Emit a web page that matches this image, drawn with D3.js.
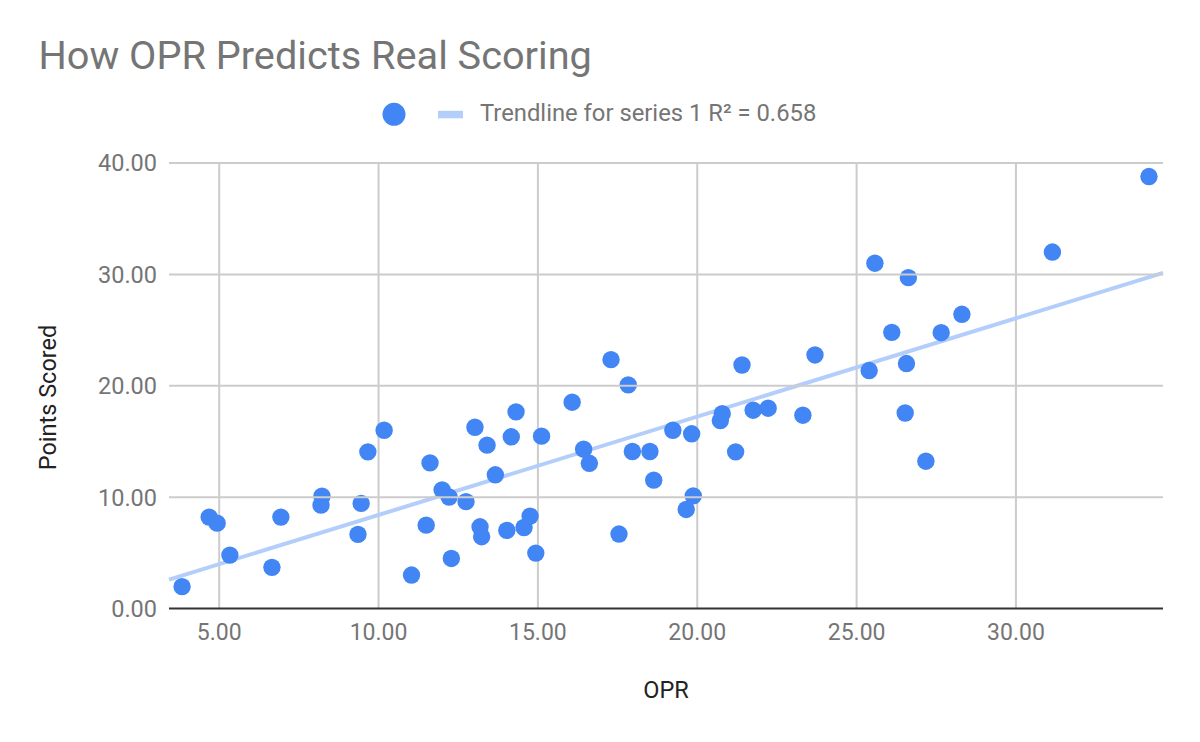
<!DOCTYPE html>
<html>
<head>
<meta charset="utf-8">
<script src="https://cdn.jsdelivr.net/npm/d3@7"></script>
<style>
  html, body { margin: 0; padding: 0; background: #fff; }
  svg { display: block; font-family: Roboto, "Noto Sans", Arial, sans-serif; }
</style>
</head>
<body>
<svg id="chart" width="1200" height="742"></svg>
<script>
// ---- data ----
const oprValues = [
  3.85, 4.70, 4.95, 5.35, 6.67, 6.95, 8.24, 8.21, 9.37, 9.47,
  9.68, 10.19, 11.05, 11.51, 11.63, 12.01, 12.23, 12.30, 12.76, 13.04,
  13.20, 13.25, 13.42, 13.68, 14.04, 14.18, 14.33, 14.58, 14.77, 14.95,
  15.13, 16.09, 16.45, 16.63, 17.31, 17.56, 17.85, 17.98, 18.53, 18.65,
  19.25, 19.67, 19.84, 19.89, 20.74, 20.80, 21.22, 21.42, 21.77, 22.24,
  23.33, 23.71, 25.41, 25.59, 26.12, 26.54, 26.58, 26.64, 27.19, 27.67,
  28.32, 31.16, 34.19
];
const pointsScored = [
  1.92, 8.16, 7.62, 4.75, 3.65, 8.16, 10.04, 9.24, 6.61, 9.39,
  14.02, 15.96, 2.96, 7.44, 13.03, 10.61, 9.96, 4.45, 9.55, 16.23,
  7.29, 6.40, 14.62, 11.96, 6.97, 15.37, 17.61, 7.23, 8.25, 4.93,
  15.43, 18.48, 14.26, 12.99, 22.30, 6.64, 20.03, 14.05, 14.05, 11.48,
  15.96, 8.85, 15.64, 10.07, 16.83, 17.45, 14.02, 21.82, 17.76, 17.94,
  17.31, 22.72, 21.32, 30.96, 24.75, 17.51, 21.95, 29.66, 13.18, 24.72,
  26.37, 31.96, 38.74
];
const xTicks = [5, 10, 15, 20, 25, 30];
const yTicks = [0, 10, 20, 30, 40];
const xDomain = [3.44, 34.63];
const yDomain = [0, 40];
const titleText = "How OPR Predicts Real Scoring";
const legendText = "Trendline for series 1 R\u00B2 = 0.658";
const xTitle = "OPR";
const yTitle = "Points Scored";

// ---- layout ----
const svg = d3.select("#chart");
const plot = { left: 169, right: 1163, top: 162.5, bottom: 608 };
const blue = "#4285F4";
const trendColor = "#b3cefb";

const x = d3.scaleLinear().domain(xDomain).range([plot.left, plot.right]);
const y = d3.scaleLinear().domain(yDomain).range([plot.bottom, plot.top]);
const fmt = d3.format(".2f");

// title
svg.append("text")
  .attr("x", 38.5).attr("y", 69)
  .attr("font-size", 39.7).attr("fill", "#757575")
  .text(titleText);

// legend
svg.append("circle").attr("cx", 394).attr("cy", 114.3).attr("r", 11.5).attr("fill", blue);
svg.append("rect").attr("x", 438).attr("y", 110.8).attr("width", 25).attr("height", 7.5).attr("fill", trendColor);
svg.append("text")
  .attr("x", 480).attr("y", 121)
  .attr("font-size", 23.8).attr("fill", "#757575")
  .text(legendText);

// gridlines (vertical) via axis
const gx = svg.append("g")
  .attr("transform", `translate(0,${plot.bottom})`)
  .call(d3.axisBottom(x).tickValues(xTicks).tickSize(-(plot.bottom - plot.top)).tickFormat(fmt).tickPadding(16));
gx.select(".domain").remove();
gx.selectAll(".tick line").attr("stroke", "#cccccc").attr("stroke-width", 2);
gx.selectAll(".tick text").attr("font-size", 23).attr("fill", "#757575")
  .attr("font-family", "Roboto, sans-serif");

// horizontal gridlines via axis
const gy = svg.append("g")
  .attr("transform", `translate(${plot.left},0)`)
  .call(d3.axisLeft(y).tickValues(yTicks).tickSize(-(plot.right - plot.left)).tickFormat(fmt).tickPadding(12));
gy.select(".domain").remove();
gy.selectAll(".tick line").attr("stroke", d => d === 0 ? "#333333" : "#cccccc").attr("stroke-width", 2);
gy.selectAll(".tick text").attr("font-size", 23.5).attr("fill", "#757575")
  .attr("font-family", "Roboto, sans-serif").attr("dy", "0.36em");
const baseline = gy.selectAll(".tick").filter(d => d === 0);

// trendline (least squares from data)
const n = oprValues.length;
const mx = d3.mean(oprValues), my = d3.mean(pointsScored);
let sxy = 0, sxx = 0;
for (let i = 0; i < n; i++) {
  sxy += (oprValues[i] - mx) * (pointsScored[i] - my);
  sxx += (oprValues[i] - mx) ** 2;
}
const slope = sxy / sxx, intercept = my - slope * mx;
const trendPts = xDomain.map(v => [v, intercept + slope * v]);
svg.append("path")
  .datum(trendPts)
  .attr("d", d3.line().x(d => x(d[0])).y(d => y(d[1])))
  .attr("stroke", trendColor).attr("stroke-width", 4).attr("fill", "none");

// points
const data = oprValues.map((v, i) => ({ x: v, y: pointsScored[i] }));
svg.append("g").selectAll("circle")
  .data(data).join("circle")
  .attr("cx", d => x(d.x)).attr("cy", d => y(d.y)).attr("r", 8.7)
  .attr("fill", blue);

baseline.raise();
gy.raise();

// axis titles
svg.append("text")
  .attr("x", (plot.left + plot.right) / 2).attr("y", 698)
  .attr("text-anchor", "middle").attr("font-size", 23.5).attr("fill", "#222222")
  .text(xTitle);
svg.append("text")
  .attr("transform", `translate(56,397.5) rotate(-90)`)
  .attr("text-anchor", "middle").attr("font-size", 23.5).attr("fill", "#222222")
  .text(yTitle);
</script>
</body>
</html>
